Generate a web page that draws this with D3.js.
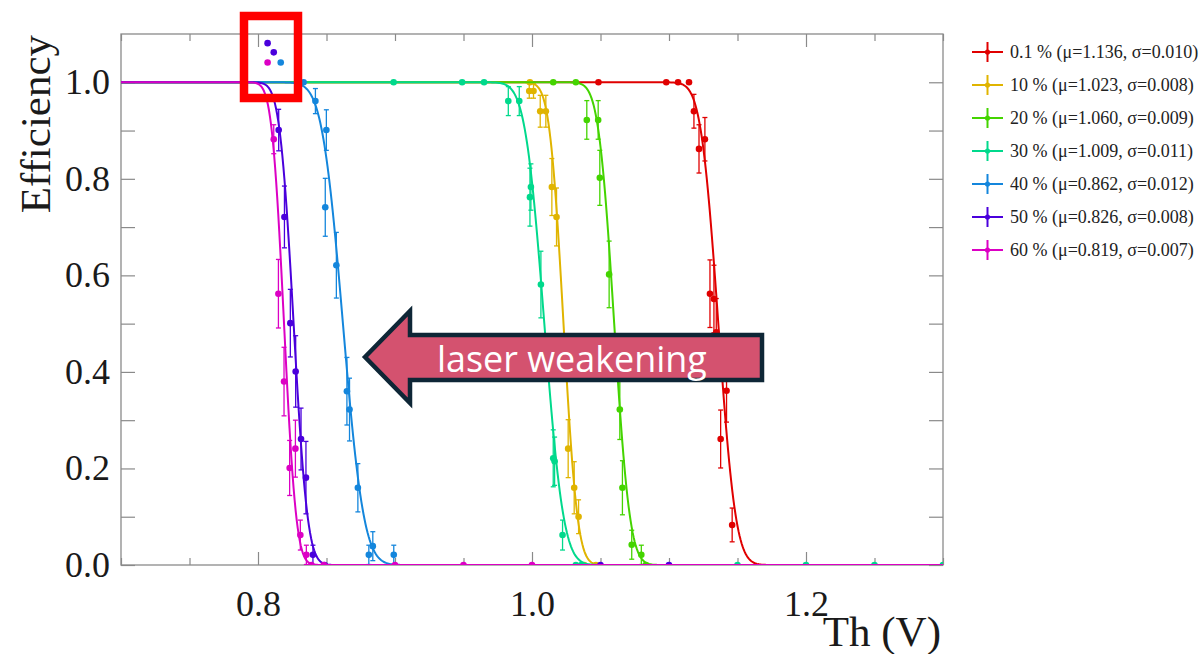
<!DOCTYPE html>
<html>
<head>
<meta charset="utf-8">
<script src="https://cdn.jsdelivr.net/npm/d3@7"></script>
<style>
  body { margin: 0; background: #fff; }
  svg { display: block; }
</style>
</head>
<body>
<svg id="chart" width="1204" height="654"></svg>
<script>
// series values (x = threshold in V, y = efficiency, e = error)
const x01 = [1.0485, 1.098, 1.1066, 1.1146, 1.1182, 1.1219, 1.1262, 1.1299, 1.1328, 1.1345, 1.1377, 1.142, 1.1461];
const y01 = [1, 1, 1, 1, 0.94, 0.862, 0.882, 0.562, 0.551, 0.482, 0.261, 0.361, 0.083];
const e01 = [0, 0, 0, 0, 0.035, 0.05, 0.045, 0.07, 0.07, 0.07, 0.06, 0.065, 0.035];

const x10 = [0.9985, 0.998, 1.0011, 1.006, 1.0101, 1.0145, 1.0179, 1.0264, 1.0308, 1.034, 1.0381, 1.0466];
const y10 = [1, 0.982, 0.982, 0.94, 0.94, 0.783, 0.721, 0.241, 0.160, 0.100, 0, 0];
const e10 = [0, 0.015, 0.015, 0.033, 0.033, 0.059, 0.06, 0.06, 0.054, 0.035, 0, 0];

const x20 = [1.0155, 1.032, 1.04, 1.0483, 1.0495, 1.0563, 1.0641, 1.066, 1.0728, 1.0798, 1.083];
const y20 = [1, 1, 0.922, 0.922, 0.802, 0.602, 0.322, 0.160, 0.042, 0.021, 0];
const e20 = [0, 0, 0.04, 0.04, 0.057, 0.069, 0.062, 0.056, 0.03, 0.02, 0];

const x30 = [0.899, 0.949, 0.965, 0.9827, 0.9907, 0.9985, 0.9992, 1.0065, 1.0155, 1.0165, 1.0223, 1.032, 1.036, 1.15, 1.2, 1.25, 1.3];
const y30 = [1, 1, 1, 0.961, 0.961, 0.762, 0.783, 0.581, 0.221, 0.215, 0.062, 0, 0, 0, 0, 0, 0];
const e30 = [0, 0, 0, 0.03, 0.03, 0.06, 0.048, 0.069, 0.059, 0.05, 0.031, 0, 0, 0, 0, 0, 0];

const x40 = [0.8166, 0.8333, 0.8419, 0.8499, 0.8491, 0.8572, 0.8649, 0.8668, 0.8729, 0.8809, 0.8838, 0.8991];
const y40 = [1.041, 1, 0.961, 0.901, 0.741, 0.621, 0.360, 0.322, 0.160, 0.021, 0.039, 0.021];
const e40 = [0, 0, 0.026, 0.042, 0.06, 0.068, 0.07, 0.065, 0.05, 0.02, 0.03, 0.02];

const x50 = [0.807, 0.8115, 0.8151, 0.8193, 0.8236, 0.8275, 0.8314, 0.835, 0.8401, 0.8486, 1.05, 1.1];
const y50 = [1.081, 1.062, 0.901, 0.721, 0.501, 0.401, 0.261, 0.181, 0.021, 0, 0, 0];
const e50 = [0, 0, 0.043, 0.064, 0.07, 0.074, 0.064, 0.075, 0.02, 0, 0, 0];

const x60 = [0.807, 0.8115, 0.8149, 0.819, 0.8231, 0.8273, 0.8309, 0.8353, 0.839, 0.848, 0.9, 0.95, 1.0];
const y60 = [1.041, 0.882, 0.562, 0.380, 0.201, 0.241, 0.062, 0.021, 0, 0, 0, 0, 0];
const e60 = [0, 0.03, 0.071, 0.071, 0.057, 0.059, 0.031, 0.02, 0, 0, 0, 0, 0];

// fit parameters from the legend
const intensities = ["0.1", "10", "20", "30", "40", "50", "60"];
const mus = [1.136, 1.023, 1.060, 1.009, 0.862, 0.826, 0.819];
const sigmas = [0.010, 0.008, 0.009, 0.011, 0.012, 0.008, 0.007];

const xTicks = [0.8, 1.0, 1.2];
const yTicks = [0.0, 0.2, 0.4, 0.6, 0.8, 1.0];

const colors = ["#e00000", "#e0b400", "#44d400", "#00d98c", "#1486dc", "#4a00dc", "#dc00c4"];

const seriesX = [x01, x10, x20, x30, x40, x50, x60];
const seriesY = [y01, y10, y20, y30, y40, y50, y60];
const seriesE = [e01, e10, e20, e30, e40, e50, e60];

const svg = d3.select("#chart");
const serif = "'Liberation Serif', 'Times New Roman', serif";

const x = d3.scaleLinear().domain([0.7, 1.3]).range([121, 943]);
const y = d3.scaleLinear().domain([0, 1.1]).range([565, 34]);

// erfc, Abramowitz-Stegun 7.1.26
function erfc(z) {
    const t = 1 / (1 + 0.3275911 * Math.abs(z));
    const p = t * (0.254829592 + t * (-0.284496736 + t * (1.421413741 + t * (-1.453152027 + t * 1.061405429))));
    const r = p * Math.exp(-z * z);
    return z >= 0 ? r : 2 - r;
}

svg.append("clipPath").attr("id", "frame-clip")
    .append("rect")
    .attr("x", x(0.7)).attr("y", y(1.1))
    .attr("width", x(1.3) - x(0.7)).attr("height", y(0) - y(1.1));

// axes (ticks inward, frame drawn separately)
const minorX = d3.range(0.7, 1.3001, 0.05).filter(v => !xTicks.some(t => Math.abs(t - v) < 1e-6));
const minorY = d3.range(0.1, 1.1, 0.2);

function styleAxis(g) {
    g.select(".domain").remove();
    g.selectAll(".tick line").attr("stroke", "#8a8a8a").attr("stroke-width", 1.2);
    g.selectAll(".tick text").attr("fill", "#1a1a1a").style("font-family", serif).style("font-size", "36px");
}

svg.append("g").attr("transform", `translate(0,${y(0)})`)
    .call(d3.axisBottom(x).tickValues(xTicks).tickSizeInner(-13).tickSizeOuter(0).tickPadding(25).tickFormat(d3.format(".1f")))
    .call(styleAxis);
svg.append("g").attr("transform", `translate(0,${y(0)})`)
    .call(d3.axisBottom(x).tickValues(minorX).tickSizeInner(-7).tickSizeOuter(0).tickFormat(""))
    .call(styleAxis);
svg.append("g").attr("transform", `translate(0,${y(1.1)})`)
    .call(d3.axisTop(x).tickValues(xTicks).tickSizeInner(-13).tickSizeOuter(0).tickFormat(""))
    .call(styleAxis);
svg.append("g").attr("transform", `translate(0,${y(1.1)})`)
    .call(d3.axisTop(x).tickValues(minorX).tickSizeInner(-7).tickSizeOuter(0).tickFormat(""))
    .call(styleAxis);

svg.append("g").attr("transform", `translate(${x(0.7)},0)`)
    .call(d3.axisLeft(y).tickValues(yTicks).tickSizeInner(-14).tickSizeOuter(0).tickPadding(11).tickFormat(d3.format(".1f")))
    .call(styleAxis);
svg.append("g").attr("transform", `translate(${x(0.7)},0)`)
    .call(d3.axisLeft(y).tickValues(minorY).tickSizeInner(-14).tickSizeOuter(0).tickFormat(""))
    .call(styleAxis);
svg.append("g").attr("transform", `translate(${x(1.3)},0)`)
    .call(d3.axisRight(y).tickValues(yTicks.concat(minorY)).tickSizeInner(-14).tickSizeOuter(0).tickFormat(""))
    .call(styleAxis);

svg.append("rect")
    .attr("x", x(0.7)).attr("y", y(1.1))
    .attr("width", x(1.3) - x(0.7)).attr("height", y(0) - y(1.1))
    .attr("fill", "none").attr("stroke", "#8a8a8a").attr("stroke-width", 1.3);

// axis titles
svg.append("text")
    .attr("transform", "translate(50,35) rotate(-90)")
    .attr("text-anchor", "end")
    .style("font-family", serif).style("font-size", "43px").attr("fill", "#1a1a1a")
    .text("Efficiency");
svg.append("text")
    .attr("x", 941).attr("y", 646)
    .attr("text-anchor", "end")
    .style("font-family", serif).style("font-size", "43px").attr("fill", "#1a1a1a")
    .text("Th (V)");

// series: fit curve + points with error bars
const plot = svg.append("g").attr("clip-path", "url(#frame-clip)");
const curveX = d3.range(0, 801).map(i => 0.7 + i * 0.6 / 800);
const line = d3.line().x(d => x(d[0])).y(d => y(d[1]));

seriesX.forEach((xs, s) => {
    const g = plot.append("g");
    const fit = curveX.map(v => [v, 0.5 * erfc((v - mus[s]) / (Math.SQRT2 * sigmas[s]))]);
    g.append("path").datum(fit)
        .attr("d", line).attr("fill", "none")
        .attr("stroke", colors[s]).attr("stroke-width", 2);

    const pts = xs.map((v, i) => ({ x: v, y: seriesY[s][i], e: seriesE[s][i] }));
    const bars = g.selectAll(".err").data(pts.filter(d => d.e > 0)).enter().append("g")
        .attr("stroke", colors[s]).attr("stroke-width", 1.3);
    bars.append("line")
        .attr("x1", d => x(d.x)).attr("x2", d => x(d.x))
        .attr("y1", d => y(d.y - d.e)).attr("y2", d => y(d.y + d.e));
    bars.append("line")
        .attr("x1", d => x(d.x) - 2.5).attr("x2", d => x(d.x) + 2.5)
        .attr("y1", d => y(d.y - d.e)).attr("y2", d => y(d.y - d.e));
    bars.append("line")
        .attr("x1", d => x(d.x) - 2.5).attr("x2", d => x(d.x) + 2.5)
        .attr("y1", d => y(d.y + d.e)).attr("y2", d => y(d.y + d.e));

    g.selectAll("circle").data(pts).enter().append("circle")
        .attr("cx", d => x(d.x)).attr("cy", d => y(d.y))
        .attr("r", 3.3).attr("fill", colors[s]);
});

// legend
const legend = svg.append("g");
intensities.forEach((lab, i) => {
    const cy = 52 + i * 33;
    const row = legend.append("g").attr("stroke", colors[i]).attr("stroke-width", 2);
    row.append("line").attr("x1", 972).attr("x2", 1003).attr("y1", cy).attr("y2", cy);
    row.append("line").attr("x1", 987.5).attr("x2", 987.5).attr("y1", cy - 10).attr("y2", cy + 10);
    legend.append("circle").attr("cx", 987.5).attr("cy", cy).attr("r", 2.6).attr("fill", colors[i]);
    legend.append("text")
        .attr("x", 1010).attr("y", cy + 6)
        .style("font-family", serif).style("font-size", "18px").attr("fill", "#222")
        .text(`${lab} % (\u03bc=${mus[i].toFixed(3)}, \u03c3=${sigmas[i].toFixed(3)})`);
});

// annotation: highlight box and arrow
svg.append("rect")
    .attr("x", 244).attr("y", 16).attr("width", 54).attr("height", 82)
    .attr("fill", "none").attr("stroke", "#ff0000").attr("stroke-width", 8.5);

const arrowPts = [[365, 357], [410, 311], [410, 335], [762, 335], [762, 380], [410, 380], [410, 403]];
svg.append("polygon")
    .attr("points", arrowPts.map(p => p.join(",")).join(" "))
    .attr("fill", "#d4526f").attr("stroke", "#0e2636").attr("stroke-width", 4.5)
    .attr("stroke-linejoin", "miter");

const label = svg.append("text")
    .attr("x", 437).attr("y", 372)
    .style("font-family", "'Open Sans', 'Noto Sans', sans-serif").style("font-size", "32px")
    .attr("fill", "#fff")
    .text("laser weakening");
const w = label.node().getComputedTextLength();
label.style("font-size", (32 * 270 / w).toFixed(1) + "px");
</script>
</body>
</html>
